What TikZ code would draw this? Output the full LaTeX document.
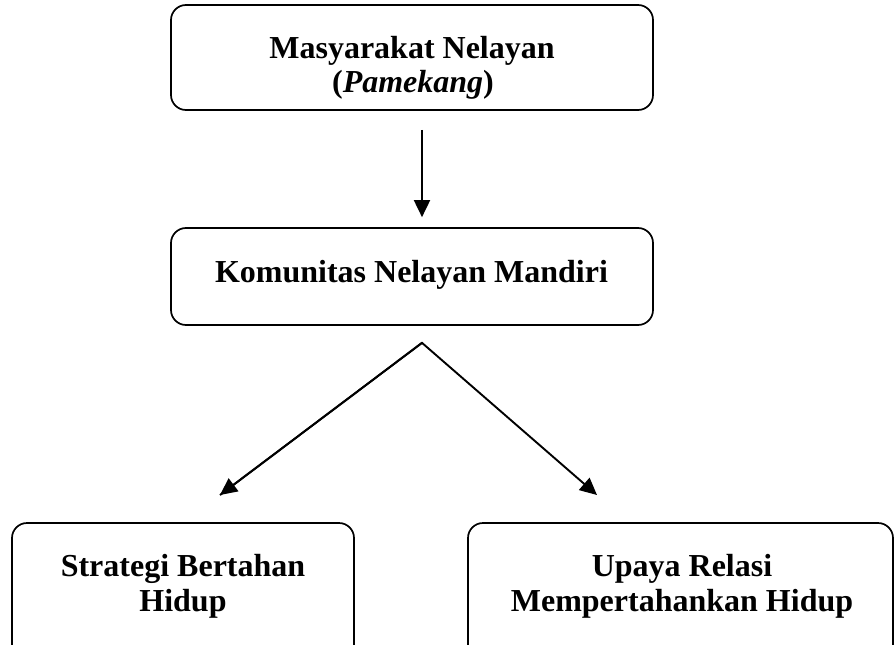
\documentclass[tikz,border=0pt]{standalone}
\usepackage{fontspec}
\setmainfont{Liberation Serif}
\usetikzlibrary{arrows.meta}
\begin{document}
\begin{tikzpicture}[x=1pt,y=-1pt,
  box/.style={draw,line width=1.7pt,rounded corners=15pt,inner sep=0pt},
  txt/.style={anchor=base,inner sep=0pt,font=\bfseries\fontsize{32}{38}\selectfont},
  arr/.style={line width=1.9pt,-{Triangle[length=17pt,width=16pt]}}]
\useasboundingbox (0,0) rectangle (895,645);
\clip (0,0) rectangle (895,645);
\fill[white] (0,0) rectangle (895,645);
% boxes
\node[box,minimum width=482pt,minimum height=105pt] (top) at (412,57.5) {};
\node[box,minimum width=482pt,minimum height=97pt] (mid) at (412,276.5) {};
\node[box,minimum width=342pt,minimum height=140pt] (left) at (183,593) {};
\node[box,minimum width=425pt,minimum height=140pt] (right) at (680.5,593) {};
% texts
\node[txt] (t1) at (412,58) {Masyarakat Nelayan};
\node[txt] (t2) at (413,92) {(\textit{Pamekang})};
\node[txt] (m1) at (411.5,282) {Komunitas Nelayan Mandiri};
\node[txt] (l1) at (183,576) {Strategi Bertahan};
\node[txt] (l2) at (183,611) {Hidup};
\node[txt] (r1) at (682,576) {Upaya Relasi};
\node[txt] (r2) at (682,611) {Mempertahankan Hidup};
% connectors
\draw[arr] ([yshift=-19pt]top.south -| 422,0) -- ([yshift=10pt]mid.north -| 422,0);
\coordinate (apex) at ([yshift=-17pt]mid.south -| 422,0);
\coordinate (lt) at (220,495);
\coordinate (rt) at (597,495);
\draw[arr,line join=miter] (lt) -- (apex) -- (rt);
\draw[arr] (apex) -- (lt);
\end{tikzpicture}
\end{document}
